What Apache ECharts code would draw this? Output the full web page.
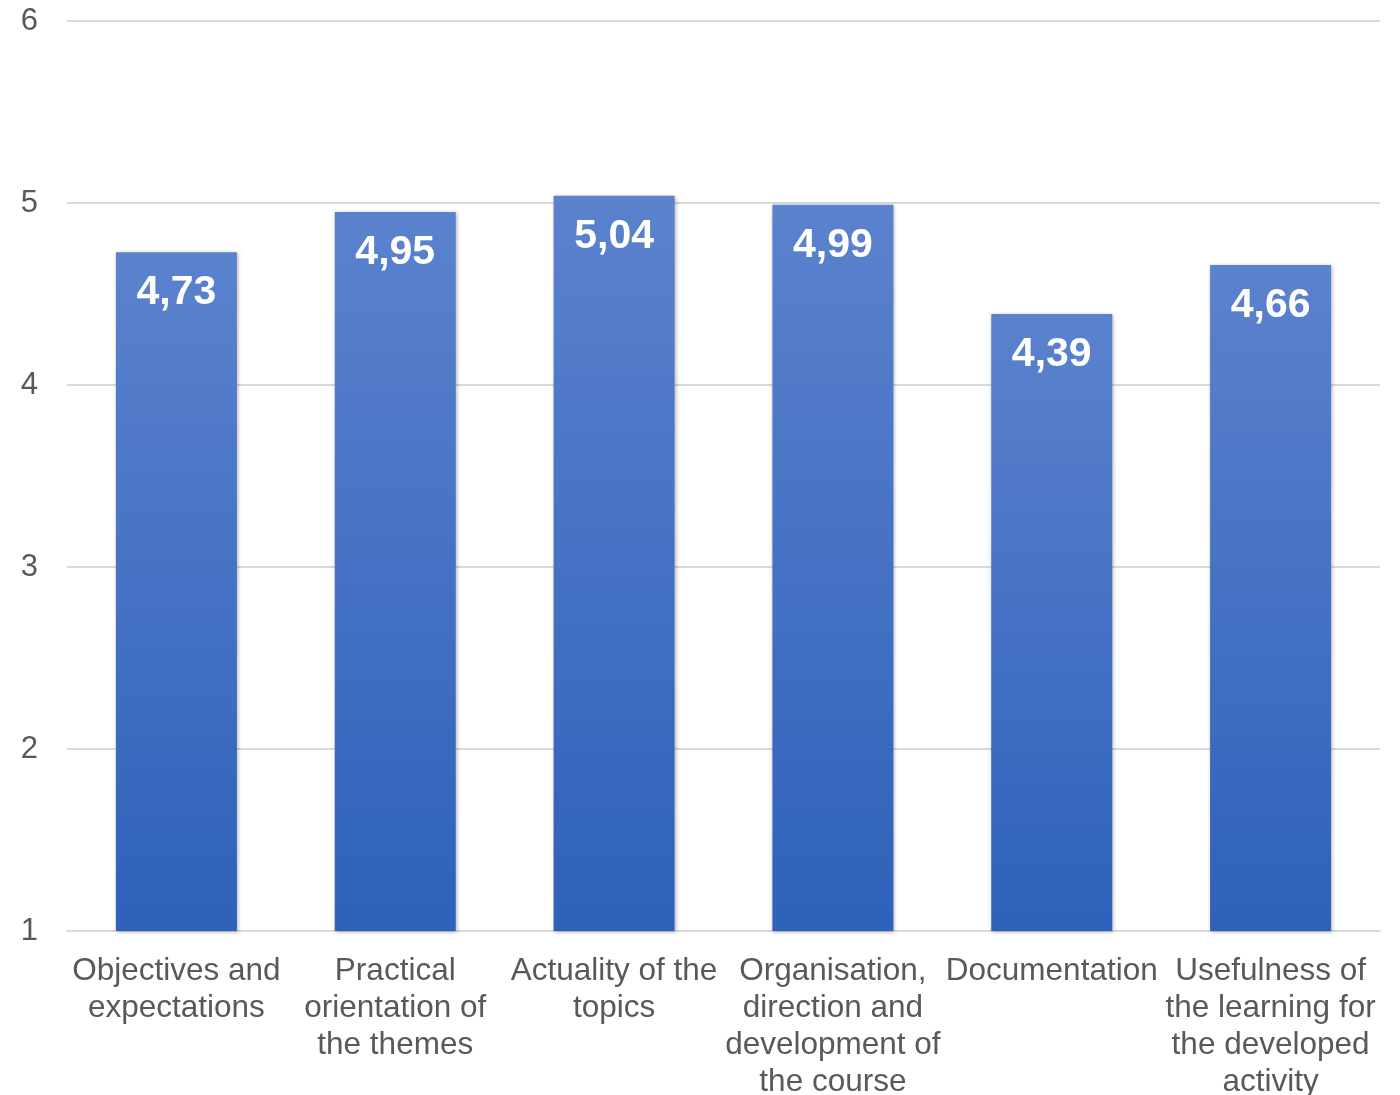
<!DOCTYPE html>
<html><head><meta charset="utf-8">
<script src="https://cdn.jsdelivr.net/npm/echarts@6/dist/echarts.min.js"></script>
<style>html,body{margin:0;padding:0;background:#fff}#c{width:1400px;height:1095px}</style>
</head><body><div id="c"></div>
<script>
const categories = [
  "Objectives and\nexpectations",
  "Practical\norientation of\nthe themes",
  "Actuality of the\ntopics",
  "Organisation,\ndirection and\ndevelopment of\nthe course",
  "Documentation",
  "Usefulness of\nthe learning for\nthe developed\nactivity"
];
const values = [4.73, 4.95, 5.04, 4.99, 4.39, 4.66];
const yTicks = [1, 6, 1];

const chart = echarts.init(document.getElementById('c'));
chart.setOption({
  animation: false,
  grid: { left: 67, right: 20, top: 21, bottom: 164, containLabel: false, outerBoundsMode: 'none' },
  xAxis: {
    type: 'category',
    data: categories,
    axisLine: { show: true, lineStyle: { color: '#d9d9d9', width: 2 } },
    axisTick: { show: false },
    axisLabel: { color: '#595959', fontSize: 31.5, fontFamily: 'Liberation Sans, Arial', lineHeight: 37, margin: 22, interval: 0 }
  },
  yAxis: {
    type: 'value', min: yTicks[0], max: yTicks[1], interval: yTicks[2],
    axisLine: { show: false }, axisTick: { show: false },
    splitLine: { lineStyle: { color: '#d9d9d9', width: 2 } },
    axisLabel: { color: '#595959', fontSize: 31, fontFamily: 'Liberation Sans, Arial', margin: 29 }
  },
  series: [{
    type: 'bar',
    data: values,
    barWidth: 121,
    itemStyle: {
      color: new echarts.graphic.LinearGradient(0, 0, 0, 1, [
        { offset: 0, color: '#5b82cd' },
        { offset: 1, color: '#2e61ba' }
      ]),
      shadowColor: 'rgba(0,0,0,0.3)', shadowBlur: 4, shadowOffsetX: 1, shadowOffsetY: 1
    },
    label: {
      show: true, position: 'insideTop', distance: 20,
      color: '#fff', fontSize: 41, fontWeight: 'bold', fontFamily: 'Liberation Sans, Arial',
      formatter: p => p.value.toFixed(2).replace('.', ',')
    }
  }]
});
</script></body></html>
